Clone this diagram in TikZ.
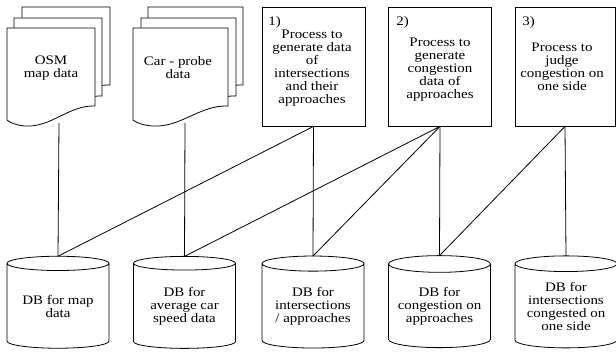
\documentclass[tikz,border=0pt]{standalone}
\usepackage{fontspec}
\setmainfont{Liberation Serif}[FakeStretch=1.15]
\usetikzlibrary{shapes.geometric}
\tikzset{
  lbl/.style={font=\fontsize{13}{13}\selectfont, align=center, inner sep=0pt},
  procbox/.style={draw, minimum width=103pt, minimum height=119pt, inner sep=0pt},
  dbcyl/.style={draw, cylinder, shape border rotate=90, aspect=0.2,
    minimum width=102pt, minimum height=92pt, inner sep=0pt, outer sep=0pt,
    font=\fontsize{13}{13}\selectfont, align=center},
  pagefill/.style={draw, fill=white},
  conn/.style={draw}
}
\newcommand{\docpage}[3]{%
  \begin{scope}[shift={(#1,#2)}]
    \path[pagefill] (0,0) -- (#3,0) -- (#3,78)
      .. controls ({#3*0.7},77) and ({#3*0.5},100) .. ({#3*0.2},98)
      .. controls ({#3*0.1},97) and ({#3*0.04},95) .. (0,92) -- cycle;
  \end{scope}}
\begin{document}
\begin{tikzpicture}[x=1pt,y=-1pt,line width=0.8pt]
\useasboundingbox (0,0) rectangle (616,353);
% document stacks
\docpage{22}{7}{88}
\docpage{14}{18}{88}
\docpage{7}{28}{88}
\docpage{148}{7}{95}
\docpage{141}{18}{95}
\docpage{133}{28}{95}
\node[lbl] (osm) at (51,68) {OSM\\map data};
\node[lbl] (car) at (178,68) {Car - probe\\data};
\coordinate (osmb) at (59,123);
\coordinate (carb) at (185,123);
% process boxes
\node[procbox] (p1) at (313.5,66.5) {};
\node[lbl, anchor=west] (p1n) at (268,22) {1)};
\node[lbl] (p1t) at (312,68.5) {Process to\\generate data\\of\\intersections\\and their\\approaches};
\node[procbox] (p2) at (440,66.5) {};
\node[lbl, anchor=west] (p2n) at (396,22) {2)};
\node[lbl] (p2t) at (440,69.5) {Process to\\generate\\congestion\\data of\\approaches};
\node[procbox, minimum width=100pt] (p3) at (565,66.5) {};
\node[lbl, anchor=west] (p3n) at (522,22) {3)};
\node[lbl] (p3t) at (562,67) {Process to\\judge\\congestion on\\one side};
% databases
\node[dbcyl] (db1) at (58,306) {DB for map\\data};
\node[dbcyl] (db2) at (184.5,306) {DB for\\average car\\speed data};
\node[dbcyl] (db3) at (313,306) {DB for\\intersections\\/ approaches};
\node[dbcyl] (db4) at (439.5,306) {DB for\\congestion on\\approaches};
\node[dbcyl] (db5) at (566,306) {DB for\\intersections\\congested on\\one side};
% connectors
\path[conn] (osmb) -- (db1.north);
\path[conn] (carb) -- (db2.north);
\path[conn] (p1.south) -- (db3.north);
\path[conn] (p2.south) -- (db4.north);
\path[conn] (p3.south) -- (db5.north);
\path[conn] (p1.south) -- (db1.north);
\path[conn] (p2.south) -- (db2.north);
\path[conn] (p2.south) -- (db3.north);
\path[conn] (p3.south) -- (db4.north);
\end{tikzpicture}
\end{document}
